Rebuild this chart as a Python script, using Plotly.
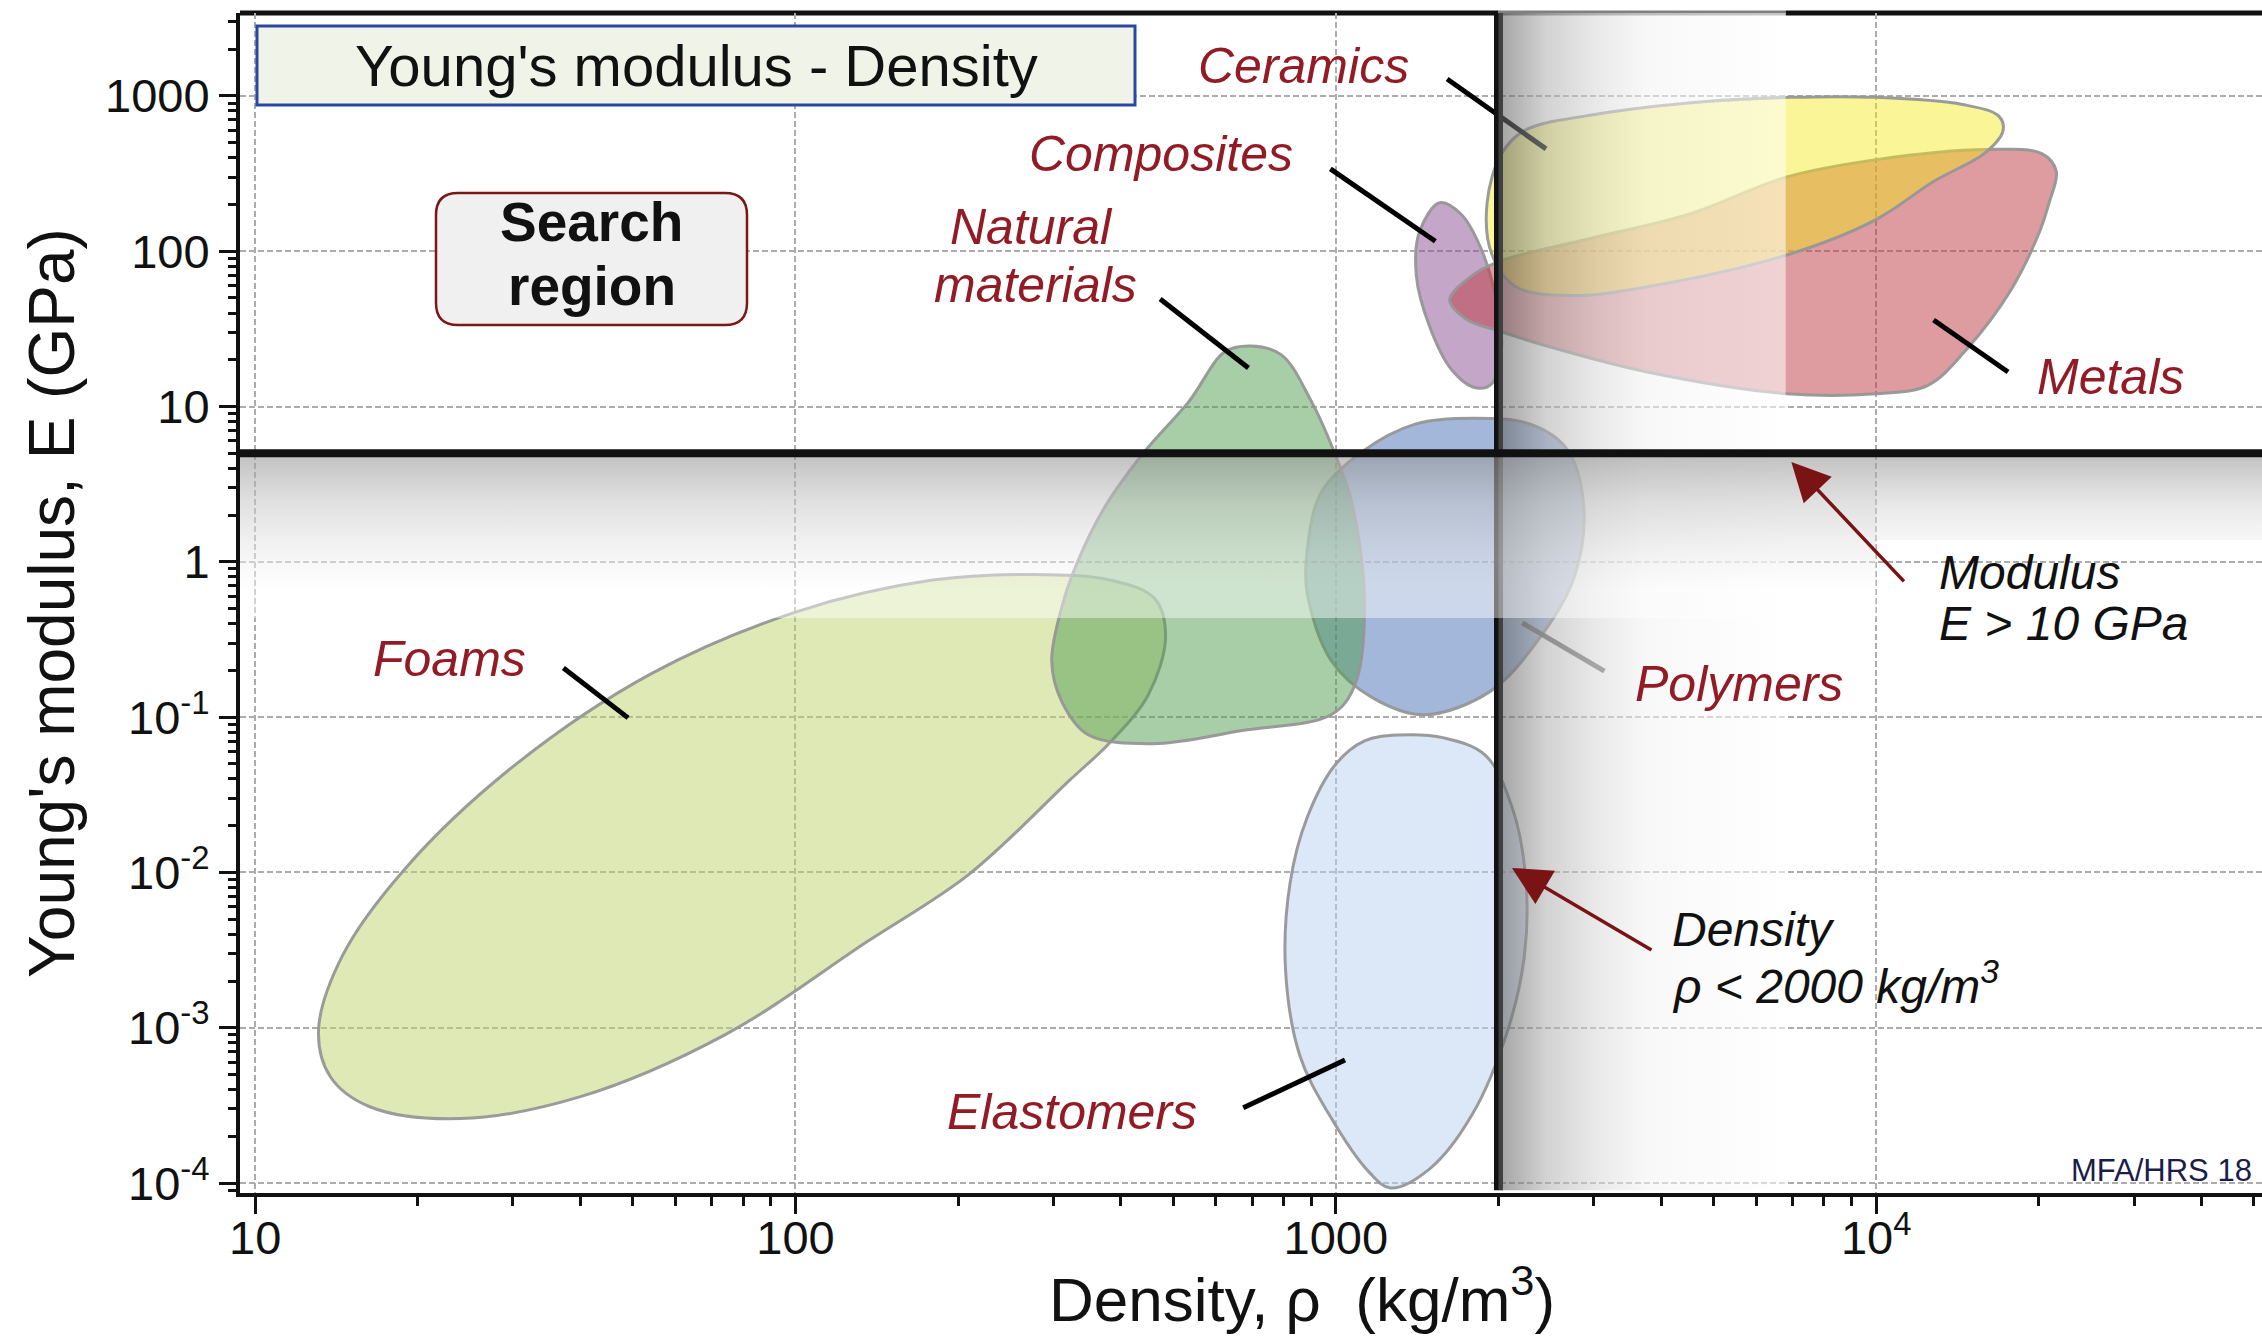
import math
import plotly.graph_objects as go

# ---------------------------------------------------------------- axes
X_LOG_RANGE = [0.972, 4.714]      # log10 density (kg/m^3)
Y_LOG_RANGE = [-4.064, 3.534]     # log10 modulus (GPa)

x_tick_vals = [10, 100, 1000, 10000]
x_tick_text = ["10", "100", "1000", "10<sup>4</sup>"]
y_tick_vals = [1e-4, 1e-3, 1e-2, 1e-1, 1, 10, 100, 1000]
y_tick_text = ["10<sup>-4</sup>", "10<sup>-3</sup>", "10<sup>-2</sup>", "10<sup>-1</sup>",
               "1", "10", "100", "1000"]

# ------------------------------------------------------ search limits
density_limit = 2000.0        # kg/m^3
modulus_line = 5.0            # GPa, height of the horizontal limit line

# ------------------------------- material envelopes (rho kg/m^3, E GPa)
foams_rho = [13.1, 13.8, 16.3, 24, 40, 74, 136, 210, 321, 384, 450, 484,
             462, 385, 275, 178, 101, 54, 30, 19, 14.5]
foams_E = [9.5e-4, 4.8e-4, 3.1e-4, 2.6e-4, 3.6e-4, 9e-4, 3.6e-3, 9.8e-3,
           0.039, 0.070, 0.14, 0.33, 0.58, 0.76, 0.83, 0.76, 0.48, 0.19,
           0.048, 0.0107, 2.9e-3]

natural_rho = [696, 793, 901, 993, 1070, 1130, 1083, 982, 671, 458, 348,
               311, 298, 311, 331, 374, 442, 535, 623]
natural_E = [24.5, 21.5, 10.8, 5.1, 2.42, 0.55, 0.159, 0.104, 0.082, 0.0675,
             0.077, 0.126, 0.229, 0.51, 0.96, 2.27, 5.1, 10.8, 22.5]

polymers_rho = [1803, 2291, 2673, 2876, 2754, 2349, 1928, 1456, 1166, 982,
                885, 885, 940, 1117, 1402]
polymers_E = [8.4, 7.7, 5.35, 2.27, 0.776, 0.302, 0.146, 0.1035, 0.134,
              0.229, 0.627, 1.19, 2.81, 5.1, 7.7]

elastomers_rho = [1303, 1585, 1892, 2128, 2249, 2234, 2089, 1791, 1490, 1262,
                  1151, 970, 858, 807, 823, 885, 1000, 1130]
elastomers_E = [0.0767, 0.0735, 0.0568, 0.0251, 0.0086, 2.94e-3, 1.01e-3,
                2.79e-4, 1.23e-4, 9.3e-5, 1.18e-4, 2.79e-4, 6.6e-4, 2.38e-3,
                8.6e-3, 0.0226, 0.0499, 0.0703]

composites_rho = [1556, 1706, 1848, 1977, 2026, 1942, 1815, 1635, 1490, 1409, 1428]
composites_E = [205, 173, 108, 50.8, 24, 14, 13.2, 17.4, 33, 70, 133]

metals_rho = [1625, 1791, 2026, 2929, 4500, 6834, 10000, 15950, 20260, 21540,
              20890, 20000, 17700, 14720, 12470, 10000, 6834, 3767, 2512, 2026, 1738]
metals_E = [48.6, 70, 86.9, 120, 173, 301, 389, 452, 425, 328, 205, 130, 55.3,
            23.5, 13.7, 12.1, 12.1, 16.7, 24, 30.3, 36.8]

ceramics_rho = [1905, 2026, 2234, 3114, 4786, 6918, 10000, 14450, 16860, 17170,
                15950, 12790, 9930, 6834, 3767, 2754, 2154, 1942]
ceramics_E = [205, 425, 598, 773, 918, 979, 979, 880, 741, 598, 433, 282, 158,
              94.6, 59, 51.9, 59, 96.6]

# label text, centre (rho, E)
material_labels = [
    ("Ceramics", 871, 1560),
    ("Composites", 475, 424),
    ("Natural", 273, 143),
    ("materials", 278, 61),
    ("Foams", 22.9, 0.237),
    ("Polymers", 5585, 0.164),
    ("Elastomers", 325, 2.87e-4),
    ("Metals", 27100, 15.5),
]

# leader lines from label to envelope: (rho0, E0, rho1, E1, colour)
leaders = [
    (1607, 1286, 2449, 456, "black"),
    (977, 339, 1528, 116, "black"),
    (473, 49.3, 689, 17.7, "black"),
    (37.2, 0.207, 49.0, 0.0989, "black"),
    (2213, 0.405, 3141, 0.198, "rgb(105,105,105)"),
    (674, 3.05e-4, 1040, 6.2e-4, "black"),
    (12770, 36.1, 17540, 16.7, "black"),
]

# explanatory notes: text, left edge rho, centre E
notes = [
    ("Modulus", 12970, 0.85),
    ("E > 10 GPa", 12970, 0.40),
    ("Density", 4160, 4.3e-3),
    ("\u03c1 < 2000 kg/m<sup>3</sup>", 4160, 1.95e-3),
]

# arrows: head (rho, E) and tail offset in px
arrows = [(6966, 4.4, 114, 121), (2118, 0.0107, 141, 83)]

# --------------------------------------------------------------- helpers
X_LO, X_HI = 10 ** X_LOG_RANGE[0], 10 ** X_LOG_RANGE[1]
Y_LO, Y_HI = 10 ** Y_LOG_RANGE[0], 10 ** Y_LOG_RANGE[1]

W, H = 2262, 1336
M_L, M_R, M_T, M_B = 240, 0, 13, 143
PW, PH = W - M_L - M_R, H - M_T - M_B


def px_to_paper(px, py):
    return (px - M_L) / PW, (H - M_B - py) / PH


def closed(seq):
    return list(seq) + [seq[0]]


def minor_ticks(lo, hi):
    vals = []
    for d in range(math.floor(lo) - 1, math.ceil(hi) + 1):
        for m in range(2, 10):
            v = m * 10.0 ** d
            if lo <= math.log10(v) <= hi:
                vals.append(v)
    return vals


FONT = "Liberation Sans, Arial, Helvetica, sans-serif"
LABEL_RED = "#931b25"
ARROW_RED = "#7a1414"
INK = "#111111"

fig = go.Figure()

# ------------------------------------------------------- envelopes
envelopes = [
    (foams_rho, foams_E, "rgba(192,212,110,0.5)"),
    (polymers_rho, polymers_E, "rgba(70,112,182,0.5)"),
    (elastomers_rho, elastomers_E, "rgba(185,208,242,0.5)"),
    (natural_rho, natural_E, "rgba(82,158,82,0.5)"),
    (composites_rho, composites_E, "rgba(138,78,146,0.5)"),
    (metals_rho, metals_E, "rgba(190,55,65,0.5)"),
    (ceramics_rho, ceramics_E, "rgba(244,233,22,0.45)"),
]
for rho, E, fill in envelopes:
    fig.add_trace(go.Scatter(
        x=closed(rho), y=closed(E), mode="lines", fill="toself", fillcolor=fill,
        line=dict(color="rgba(150,150,150,0.95)", width=3, shape="spline", smoothing=1.0),
        hoverinfo="skip", showlegend=False))

# ------------------------------------------------------- leader lines
for r0, e0, r1, e1, col in leaders:
    fig.add_trace(go.Scatter(
        x=[r0, r1], y=[e0, e1], mode="lines",
        line=dict(color=col, width=5), hoverinfo="skip", showlegend=False))

# ------------------------------------------------ vertical limit line
fig.add_trace(go.Scatter(
    x=[density_limit, density_limit], y=[Y_LO * 1.04, Y_HI], mode="lines",
    line=dict(color=INK, width=9), hoverinfo="skip", showlegend=False))

# shading beside the density limit
band_x_end = 6800
fig.add_trace(go.Scatter(
    x=[density_limit, band_x_end, band_x_end, density_limit, density_limit],
    y=[Y_LO * 1.04, Y_LO * 1.04, Y_HI, Y_HI, Y_LO * 1.04],
    mode="lines", line=dict(width=0), fill="toself",
    fillgradient=dict(type="horizontal", colorscale=[
        [0.0, "rgba(95,95,95,0.58)"],
        [0.17, "rgba(175,175,175,0.55)"],
        [0.34, "rgba(215,215,215,0.55)"],
        [0.51, "rgba(242,242,242,0.55)"],
        [1.0, "rgba(255,255,255,0.55)"]]),
    hoverinfo="skip", showlegend=False))

# shading below the modulus limit
band_y_low_left = 0.435
band_y_low_right = 1.38
fig.add_trace(go.Scatter(
    x=[X_LO, 10000, 10000, X_LO, X_LO],
    y=[band_y_low_left, band_y_low_left, modulus_line, modulus_line, band_y_low_left],
    mode="lines", line=dict(width=0), fill="toself",
    fillgradient=dict(type="vertical", colorscale=[
        [0.0, "rgba(255,255,255,0.45)"],
        [0.17, "rgba(255,255,255,0.45)"],
        [0.36, "rgba(238,238,238,0.5)"],
        [0.7, "rgba(200,200,200,0.55)"],
        [1.0, "rgba(150,150,150,0.6)"]]),
    hoverinfo="skip", showlegend=False))
fig.add_trace(go.Scatter(
    x=[10000, X_HI, X_HI, 10000, 10000],
    y=[band_y_low_right, band_y_low_right, modulus_line, modulus_line, band_y_low_right],
    mode="lines", line=dict(width=0), fill="toself",
    fillgradient=dict(type="vertical", colorscale=[
        [0.0, "rgba(238,238,238,0.5)"],
        [0.4, "rgba(215,215,215,0.55)"],
        [1.0, "rgba(150,150,150,0.6)"]]),
    hoverinfo="skip", showlegend=False))

# ---------------------------------------------- horizontal limit line
fig.add_trace(go.Scatter(
    x=[X_LO, X_HI], y=[modulus_line, modulus_line], mode="lines",
    line=dict(color=INK, width=8), hoverinfo="skip", showlegend=False))

# --------------------------------------------------------- annotations
ann = []
for text, rho, E in material_labels:
    ann.append(dict(
        x=math.log10(rho), y=math.log10(E), xref="x", yref="y",
        text=f"<i>{text}</i>", showarrow=False, xanchor="center", yanchor="middle",
        font=dict(family=FONT, size=50, color=LABEL_RED)))

for text, rho, E in notes:
    ann.append(dict(
        x=math.log10(rho), y=math.log10(E), xref="x", yref="y",
        text=f"<i>{text}</i>", showarrow=False, xanchor="left", yanchor="middle",
        font=dict(family=FONT, size=48, color=INK)))

for rho, E, dx, dy in arrows:
    ann.append(dict(
        x=math.log10(rho), y=math.log10(E), xref="x", yref="y",
        ax=dx, ay=dy, text="", showarrow=True, arrowhead=2, arrowsize=2.2,
        arrowwidth=3.5, arrowcolor=ARROW_RED, standoff=0))

# chart title
tx0, ty0 = px_to_paper(257, 105)
tx1, ty1 = px_to_paper(1135, 26)
ann.append(dict(
    x=(tx0 + tx1) / 2, y=(ty0 + ty1) / 2, xref="paper", yref="paper",
    text="Young's modulus - Density", showarrow=False,
    xanchor="center", yanchor="middle",
    font=dict(family=FONT, size=58, color=INK)))

# search region box
sx0, sy0 = px_to_paper(436, 325)
sx1, sy1 = px_to_paper(747, 193)
for text, py in [("Search", 222), ("region", 286)]:
    _, yy = px_to_paper(0, py)
    ann.append(dict(
        x=(sx0 + sx1) / 2, y=yy, xref="paper", yref="paper",
        text=f"<b>{text}</b>", showarrow=False, xanchor="center", yanchor="middle",
        font=dict(family=FONT, size=55, color=INK)))

# axis titles
ax_x, ax_y = px_to_paper(1302, 1336)
ann.append(dict(
    x=ax_x, y=ax_y, xref="paper", yref="paper",
    text="Density, \u03c1\u00a0\u00a0(kg/m<sup>3</sup>)", showarrow=False,
    xanchor="center", yanchor="bottom",
    font=dict(family=FONT, size=62, color=INK)))
ay_x, ay_y = px_to_paper(52, 603)
ann.append(dict(
    x=ay_x, y=ay_y, xref="paper", yref="paper",
    text="Young's modulus, E (GPa)", showarrow=False, textangle=-90,
    xanchor="center", yanchor="middle",
    font=dict(family=FONT, size=64, color=INK)))

# credit
cx, cy = px_to_paper(2254, 1170)
ann.append(dict(
    x=cx, y=cy, xref="paper", yref="paper", text="MFA/HRS 18",
    showarrow=False, xanchor="right", yanchor="middle",
    font=dict(family=FONT, size=31, color="#1c1c4a")))

# -------------------------------------------------------------- shapes
rx, ry = 22 / PW, 22 / PH
search_path = (
    f"M {sx0 + rx},{sy0} L {sx1 - rx},{sy0} Q {sx1},{sy0} {sx1},{sy0 + ry} "
    f"L {sx1},{sy1 - ry} Q {sx1},{sy1} {sx1 - rx},{sy1} "
    f"L {sx0 + rx},{sy1} Q {sx0},{sy1} {sx0},{sy1 - ry} "
    f"L {sx0},{sy0 + ry} Q {sx0},{sy0} {sx0 + rx},{sy0} Z")

shapes = [
    # top frame line, greyed where the density shading crosses it
    dict(type="line", xref="x", yref="paper", x0=X_LO, x1=density_limit, y0=1, y1=1,
         line=dict(color=INK, width=5), layer="below"),
    dict(type="line", xref="x", yref="paper", x0=density_limit, x1=band_x_end, y0=1, y1=1,
         line=dict(color="rgb(128,128,128)", width=5), layer="below"),
    dict(type="line", xref="x", yref="paper", x0=band_x_end, x1=X_HI, y0=1, y1=1,
         line=dict(color=INK, width=5), layer="below"),
    # title box
    dict(type="rect", xref="paper", yref="paper", x0=tx0, x1=tx1, y0=ty0, y1=ty1,
         fillcolor="rgb(240,244,232)", line=dict(color="rgb(42,72,160)", width=3)),
    # search region box
    dict(type="path", xref="paper", yref="paper", path=search_path,
         fillcolor="rgb(240,240,240)", line=dict(color="rgb(122,24,24)", width=2.5)),
]

# ---------------------------------------------------------------- axes
grid = dict(showgrid=True, gridcolor="rgb(172,172,172)", gridwidth=2, griddash="6px,3px")
tick_font = dict(family=FONT, size=47, color=INK)

fig.update_layout(
    width=W, height=H,
    margin=dict(l=M_L, r=M_R, t=M_T, b=M_B),
    paper_bgcolor="white", plot_bgcolor="white",
    showlegend=False,
    annotations=ann, shapes=shapes,
    xaxis=dict(
        type="log", range=X_LOG_RANGE, tickmode="array",
        tickvals=x_tick_vals, ticktext=x_tick_text, tickfont=tick_font,
        ticks="outside", ticklen=17, tickwidth=3, tickcolor=INK,
        ticklabelstandoff=-16,
        showline=True, linecolor=INK, linewidth=4, zeroline=False,
        minor=dict(tickmode="array", tickvals=minor_ticks(*X_LOG_RANGE),
                   ticks="outside", ticklen=9, tickwidth=2.5, tickcolor=INK,
                   showgrid=False),
        fixedrange=True, **grid),
    yaxis=dict(
        type="log", range=Y_LOG_RANGE, tickmode="array",
        tickvals=y_tick_vals, ticktext=y_tick_text, tickfont=tick_font,
        ticks="outside", ticklen=17, tickwidth=3, tickcolor=INK,
        showline=True, linecolor=INK, linewidth=4, zeroline=False,
        minor=dict(tickmode="array", tickvals=minor_ticks(*Y_LOG_RANGE),
                   ticks="outside", ticklen=8, tickwidth=2.5, tickcolor=INK,
                   showgrid=False),
        fixedrange=True, **grid),
)

fig.write_html("out.html")
